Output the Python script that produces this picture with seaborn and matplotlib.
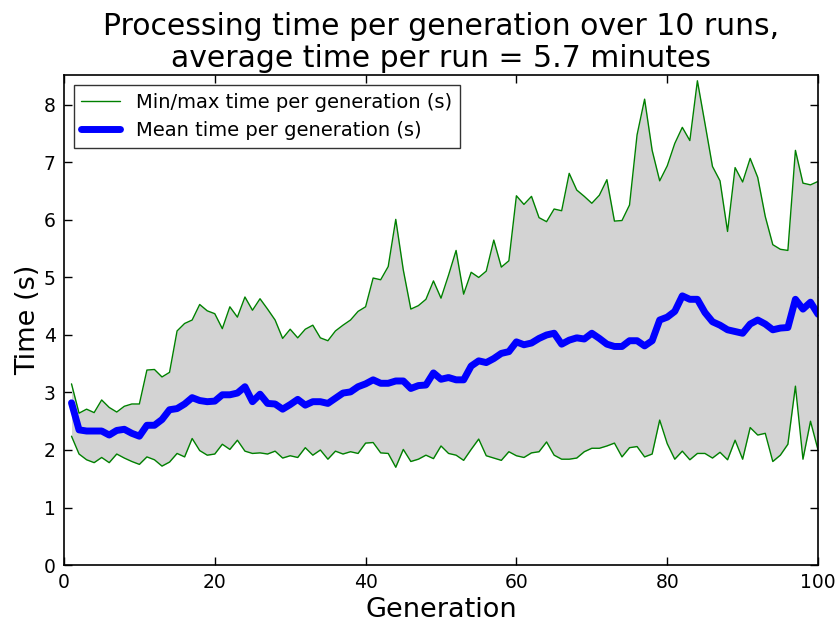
import numpy as np
import pandas as pd
import matplotlib
matplotlib.use("Agg")
import matplotlib.pyplot as plt
import seaborn as sns

generations = list(range(1, 101))

max_time = [3.15, 2.64, 2.71, 2.65, 2.87, 2.74, 2.66, 2.76, 2.80, 2.80,
            3.39, 3.40, 3.27, 3.35, 4.07, 4.20, 4.26, 4.53, 4.42, 4.37,
            4.11, 4.49, 4.31, 4.66, 4.43, 4.63, 4.45, 4.26, 3.94, 4.10,
            3.95, 4.10, 4.17, 3.95, 3.90, 4.07, 4.17, 4.26, 4.41, 4.49,
            4.99, 4.96, 5.19, 6.01, 5.13, 4.45, 4.51, 4.62, 4.94, 4.64,
            5.04, 5.47, 4.71, 5.09, 5.00, 5.11, 5.65, 5.18, 5.29, 6.42,
            6.27, 6.41, 6.04, 5.97, 6.19, 6.16, 6.81, 6.52, 6.41, 6.29,
            6.43, 6.70, 5.98, 5.99, 6.26, 7.48, 8.10, 7.21, 6.68, 6.94,
            7.33, 7.61, 7.38, 8.42, 7.68, 6.93, 6.68, 5.80, 6.91, 6.66,
            7.07, 6.74, 6.06, 5.57, 5.49, 5.47, 7.21, 6.64, 6.61, 6.67]

mean_time = [2.82, 2.35, 2.33, 2.33, 2.33, 2.26, 2.34, 2.36, 2.29, 2.24,
             2.43, 2.43, 2.53, 2.70, 2.72, 2.80, 2.91, 2.86, 2.84, 2.85,
             2.96, 2.96, 2.99, 3.10, 2.84, 2.97, 2.81, 2.80, 2.71, 2.79,
             2.88, 2.78, 2.84, 2.84, 2.81, 2.90, 2.99, 3.01, 3.10, 3.15,
             3.22, 3.16, 3.16, 3.20, 3.20, 3.07, 3.12, 3.13, 3.34, 3.23,
             3.26, 3.22, 3.22, 3.46, 3.55, 3.52, 3.59, 3.68, 3.71, 3.88,
             3.83, 3.86, 3.94, 4.00, 4.03, 3.84, 3.91, 3.95, 3.93, 4.03,
             3.94, 3.84, 3.80, 3.80, 3.90, 3.90, 3.81, 3.90, 4.26, 4.31,
             4.41, 4.68, 4.62, 4.62, 4.39, 4.23, 4.17, 4.09, 4.06, 4.03,
             4.19, 4.26, 4.19, 4.09, 4.12, 4.13, 4.62, 4.45, 4.57, 4.36]

min_time = [2.24, 1.93, 1.83, 1.78, 1.87, 1.78, 1.93, 1.86, 1.80, 1.75,
            1.88, 1.83, 1.72, 1.79, 1.94, 1.88, 2.20, 1.99, 1.91, 1.93,
            2.10, 2.01, 2.17, 1.98, 1.94, 1.95, 1.93, 1.98, 1.86, 1.90,
            1.87, 2.04, 1.91, 2.00, 1.84, 1.98, 1.93, 1.97, 1.94, 2.12,
            2.13, 1.95, 1.94, 1.70, 2.01, 1.80, 1.84, 1.91, 1.85, 2.07,
            1.94, 1.91, 1.82, 2.01, 2.19, 1.90, 1.86, 1.82, 1.97, 1.90,
            1.87, 1.95, 1.97, 2.14, 1.91, 1.84, 1.84, 1.86, 1.97, 2.03,
            2.03, 2.07, 2.12, 1.88, 2.04, 2.06, 1.88, 1.93, 2.52, 2.11,
            1.84, 1.98, 1.83, 1.94, 1.94, 1.86, 1.96, 1.83, 2.17, 1.84,
            2.39, 2.26, 2.29, 1.80, 1.91, 2.10, 3.11, 1.84, 2.50, 2.00]

df = pd.DataFrame({"gen": generations, "max": max_time,
                   "mean": mean_time, "min": min_time})

sns.set_style("white")
plt.rcParams["font.family"] = ["DejaVu Sans"]
plt.rcParams.update({"text.color": "black", "axes.labelcolor": "black",
                     "xtick.color": "black", "ytick.color": "black"})

fig = plt.figure(figsize=(8.35, 6.22), dpi=100)
ax = fig.add_axes([0.0766, 0.0916, 0.9031, 0.7878])

ax.fill_between(df["gen"], df["min"], df["max"], color="lightgray", linewidth=0)
sns.lineplot(data=df, x="gen", y="max", ax=ax, color="green", linewidth=1.0,
             label="Min/max time per generation (s)")
sns.lineplot(data=df, x="gen", y="min", ax=ax, color="green", linewidth=1.0,
             label="_nolegend_")
sns.lineplot(data=df, x="gen", y="mean", ax=ax, color="blue", linewidth=5.0,
             label="Mean time per generation (s)")

ax.set_xlim(0, 100)
ax.set_ylim(0, 8.52)
ax.set_xticks([0, 20, 40, 60, 80, 100])
ax.set_yticks([0, 1, 2, 3, 4, 5, 6, 7, 8])
ax.tick_params(direction="in", length=6, width=1, labelsize=13.5,
               top=True, right=True, bottom=True, left=True, pad=6)
for s in ax.spines.values():
    s.set_color("black")
    s.set_linewidth(1.2)

ax.set_xlabel("Generation", fontsize=19.5, labelpad=3)
ax.set_ylabel("Time (s)", fontsize=19.5, labelpad=2)
ax.set_title("Processing time per generation over 10 runs,\naverage time per run = 5.7 minutes",
             fontsize=21.5, pad=6, linespacing=1.1)

leg = ax.legend(loc="upper left", fontsize=14, frameon=True, fancybox=False,
                borderaxespad=0.5, handlelength=2.0)
leg.get_frame().set_edgecolor("black")
leg.get_frame().set_linewidth(1.0)

fig.savefig("out.png", dpi=100)
